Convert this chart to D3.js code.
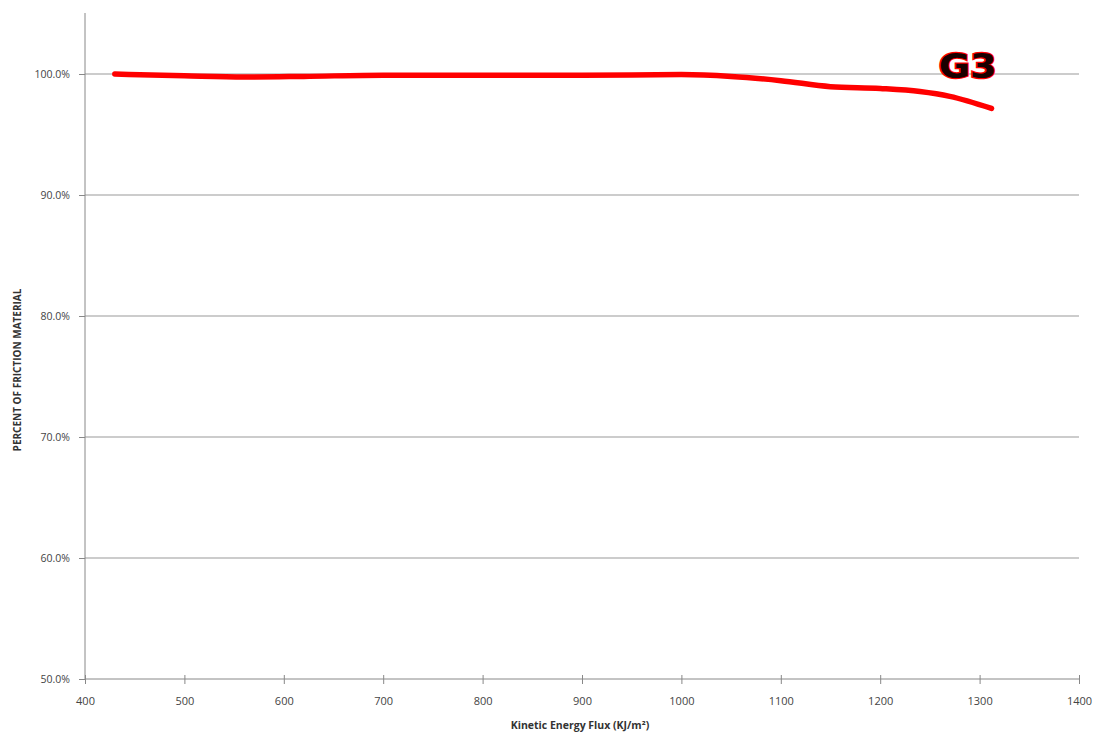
<!DOCTYPE html>
<html><head><meta charset="utf-8">
<script src="https://cdn.jsdelivr.net/npm/d3@7"></script>
<style>body{margin:0;background:#fff}svg{display:block}</style>
</head><body>
<svg id="c" width="1105" height="738"></svg>
<script>
const xTicks = [400,500,600,700,800,900,1000,1100,1200,1300,1400];
const yTicks = [0.5,0.6,0.7,0.8,0.9,1.0];
const energy = [430,500,560,620,700,800,900,1000,1050,1100,1150,1200,1240,1270,1312];
const percent = [1.000,0.9985,0.9975,0.998,0.999,0.999,0.999,0.9995,0.998,0.9945,0.9895,0.988,0.9855,0.9815,0.9715];
const seriesLabel = "G3";

const svg = d3.select("#c");
const x = d3.scaleLinear().domain([400,1400]).range([85,1079]);
const y = d3.scaleLinear().domain([0.5,1.05]).range([679,13.5]);

// gridlines
svg.append("g").selectAll("line").data(yTicks.filter(d=>d>0.5)).join("line")
  .attr("x1",85).attr("x2",1079).attr("y1",d=>y(d)).attr("y2",d=>y(d))
  .attr("stroke","#999").attr("stroke-width",1);

// y axis
const yAxis = svg.append("g").attr("transform","translate(85,0)")
  .call(d3.axisLeft(y).tickValues(yTicks).tickFormat(d3.format(".1%")).tickSize(6).tickPadding(9));
yAxis.select(".domain").attr("stroke","#888").attr("d","M0,13V679");
yAxis.selectAll(".tick line").attr("stroke","#888");
yAxis.selectAll("text").attr("font-family","'Open Sans',sans-serif").attr("font-size",10.5).attr("fill","#444");

// x axis
const xAxis = svg.append("g").attr("transform","translate(0,679)")
  .call(d3.axisBottom(x).tickValues(xTicks).tickFormat(d3.format("d")).tickSize(5).tickPadding(13));
xAxis.select(".domain").attr("stroke","#888").attr("d","M85,0H1079");
xAxis.selectAll(".tick line").attr("stroke","#888").attr("y1",-4);
xAxis.selectAll("text").attr("font-family","'Open Sans',sans-serif").attr("font-size",11).attr("fill","#444");

// axis titles
svg.append("text").attr("x",580).attr("y",729).attr("text-anchor","middle")
  .attr("font-family","'Open Sans',sans-serif").attr("font-weight","bold").attr("font-size",10.5).attr("fill","#333")
  .text("Kinetic Energy Flux (KJ/m²)");
svg.append("text").attr("transform","translate(21,370) rotate(-90)").attr("text-anchor","middle")
  .attr("font-family","'Open Sans',sans-serif").attr("font-weight","bold").attr("font-size",10).attr("fill","#333")
  .text("PERCENT OF FRICTION MATERIAL");

// line
const data = energy.map((e,i)=>({x:e,y:percent[i]}));
svg.append("path").datum(data)
  .attr("fill","none").attr("stroke","#ff0000").attr("stroke-width",5.5).attr("stroke-linecap","round")
  .attr("d", d3.line().x(d=>x(d.x)).y(d=>y(d.y)).curve(d3.curveMonotoneX));

// series label
svg.append("text").attr("x",x(1288)).attr("y",y(0.997)).attr("text-anchor","middle")
  .attr("font-family","'DejaVu Sans',sans-serif").attr("font-weight","bold").attr("font-size",33)
  .attr("textLength",58).attr("lengthAdjust","spacingAndGlyphs")
  .attr("fill","#1a0000").attr("stroke","#ff0000").attr("stroke-width",2.4).attr("paint-order","stroke")
  .text(seriesLabel);
</script>
</body></html>
